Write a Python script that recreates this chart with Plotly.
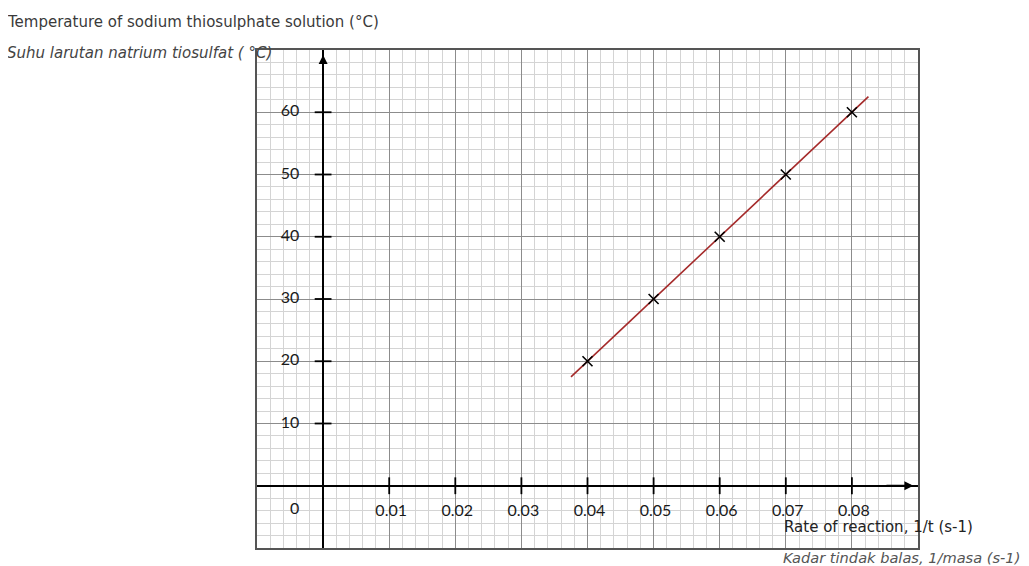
import numpy as np
import plotly.graph_objects as go

rate = [0.04, 0.05, 0.06, 0.07, 0.08]
temperature = [20, 30, 40, 50, 60]

x_ticks = [0.01, 0.02, 0.03, 0.04, 0.05, 0.06, 0.07, 0.08]
x_tick_labels = ['0.01', '0.02', '0.03', '0.04', '0.05', '0.06', '0.07', '0.08']
y_ticks = [10, 20, 30, 40, 50, 60]
y_tick_labels = ['10', '20', '30', '40', '50', '60']

# extent of the drawn best-fit line
fit_x = [0.0375, 0.0825]

# the page body adds an 8px margin, so the figure is a little smaller
OFF = 8
W, H = 1029 - OFF, 566 - OFF
L, R, T, B = 257 - OFF, 111, 50 - OFF, 18
pw, ph = W - L - R, H - T - B


def px(xp):
    # page pixel -> paper coordinate
    return (xp - OFF - L) / pw


def py(yp):
    return (H - B - (yp - OFF)) / ph


slope, intercept = np.polyfit(rate, temperature, 1)
fit_y = [slope * v + intercept for v in fit_x]

fig = go.Figure()

# best fit line
fig.add_trace(go.Scatter(x=fit_x, y=fit_y, mode='lines',
                         line=dict(color='#a52a2a', width=1.6), hoverinfo='skip'))

# plotted points
fig.add_trace(go.Scatter(x=rate, y=temperature, mode='markers',
                         marker=dict(symbol='x-thin', size=10, line=dict(color='black', width=1.6))))

# tick marks crossing the axes
fig.add_trace(go.Scatter(x=x_ticks, y=[0] * len(x_ticks), mode='markers',
                         marker=dict(symbol='line-ns', size=12, line=dict(color='black', width=1.8))))
fig.add_trace(go.Scatter(x=[0] * len(y_ticks), y=y_ticks, mode='markers',
                         marker=dict(symbol='line-ew', size=12, line=dict(color='black', width=1.8))))

# tick labels beside the axes
lab_font = dict(family='Lato', size=16, color='#1a1a1a')
fig.add_trace(go.Scatter(x=[v + 0.0003 for v in x_ticks], y=[-4.2] * len(x_ticks), mode='text',
                         text=x_tick_labels, textfont=lab_font, textposition='middle center'))
fig.add_trace(go.Scatter(x=[-0.005] * len(y_ticks), y=y_ticks, mode='text',
                         text=y_tick_labels, textfont=lab_font, textposition='middle center'))
fig.add_trace(go.Scatter(x=[-0.0043], y=[-3.9], mode='text', text=['0'],
                         textfont=lab_font, textposition='middle center'))

fig.update_traces(showlegend=False)

fig.update_xaxes(range=[-0.01, 0.09], dtick=0.01, tick0=0, showgrid=True,
                 gridcolor='#8c8c8c', gridwidth=1.4,
                 minor=dict(dtick=0.002, tick0=0, showgrid=True, gridcolor='#d4d4d4', gridwidth=1),
                 zeroline=True, zerolinecolor='black', zerolinewidth=2,
                 showline=True, mirror=True, linecolor='#555', linewidth=2,
                 showticklabels=False, ticks='')
fig.update_yaxes(range=[-10, 70], dtick=10, tick0=0, showgrid=True,
                 gridcolor='#8c8c8c', gridwidth=1.4,
                 minor=dict(dtick=2, tick0=0, showgrid=True, gridcolor='#d4d4d4', gridwidth=1),
                 zeroline=True, zerolinecolor='black', zerolinewidth=2,
                 showline=True, mirror=True, linecolor='#555', linewidth=2,
                 showticklabels=False, ticks='')

# arrow heads on the axes
fig.add_annotation(x=0.0893, y=0, ax=0.085, ay=0, xref='x', yref='y', axref='x', ayref='y',
                   text='', showarrow=True, arrowhead=2, arrowsize=1, arrowwidth=1.8, arrowcolor='black')
fig.add_annotation(x=0, y=69.2, ax=0, ay=64, xref='x', yref='y', axref='x', ayref='y',
                   text='', showarrow=True, arrowhead=2, arrowsize=1, arrowwidth=1.8, arrowcolor='black')

# axis titles (annotations carry ~3px padding, so anchor 3px to the left)
title_font = 'DejaVu Sans'
fig.add_annotation(x=px(5), y=py(22), xref='paper', yref='paper', xanchor='left', yanchor='middle',
                   text='Temperature of sodium thiosulphate solution (°C)', showarrow=False,
                   font=dict(family=title_font, size=15, color='#3a3a3a'))
fig.add_annotation(x=px(5), y=py(53), xref='paper', yref='paper', xanchor='left', yanchor='middle',
                   text='<i>Suhu larutan natrium tiosulfat ( °C)</i>', showarrow=False,
                   font=dict(family=title_font, size=15, color='#444'))
fig.add_annotation(x=px(782), y=py(527), xref='paper', yref='paper', xanchor='left', yanchor='middle',
                   text='Rate of reaction, 1/t (s-1)', showarrow=False,
                   font=dict(family=title_font, size=15, color='#222'))
fig.add_annotation(x=px(781), y=py(557), xref='paper', yref='paper', xanchor='left', yanchor='middle',
                   text='<i>Kadar tindak balas, 1/masa (s-1)</i>', showarrow=False,
                   font=dict(family=title_font, size=14.6, color='#555'))

fig.update_layout(width=W, height=H, margin=dict(l=L, r=R, t=T, b=B),
                  plot_bgcolor='white', paper_bgcolor='white')

fig.write_html("out.html")
